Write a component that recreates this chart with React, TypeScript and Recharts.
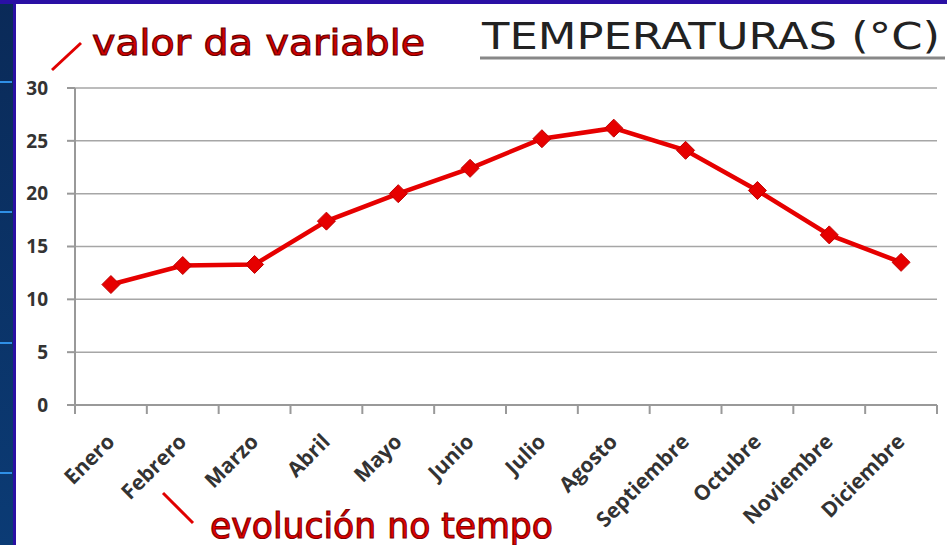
import { LineChart, Line, XAxis, YAxis, CartesianGrid } from 'recharts'

const months = ['Enero', 'Febrero', 'Marzo', 'Abril', 'Mayo', 'Junio', 'Julio', 'Agosto', 'Septiembre', 'Octubre', 'Noviembre', 'Diciembre']
const temps = [11.4, 13.2, 13.3, 17.4, 20.0, 22.4, 25.2, 26.2, 24.1, 20.3, 16.1, 13.5]
const yTicks = [0, 5, 10, 15, 20, 25, 30]

const data = months.map((m, i) => ({ month: m, temp: temps[i] }))

const tickFont = { fontFamily: 'Open Sans', fontWeight: 700, fontSize: 19, fill: '#333' }

function MonthTick(props: any) {
  const { x, y, payload, index } = props
  const off = payload.offset ?? 36
  return (
    <g>
      <line x1={x - off} y1={y} x2={x - off} y2={y + 9} stroke="#999" strokeWidth={2} />
      {index === months.length - 1 && (
        <line x1={x + off} y1={y} x2={x + off} y2={y + 9} stroke="#999" strokeWidth={2} />
      )}
      <text
        x={x + 5}
        y={y + 38}
        textAnchor="end"
        transform={`rotate(-45, ${x + 5}, ${y + 38})`}
        {...tickFont}
        fontSize={21}
      >
        {payload.value}
      </text>
    </g>
  )
}

function Diamond(props: any) {
  const { cx, cy, index } = props
  const r = 9
  return (
    <polygon
      key={`dot-${index}`}
      points={`${cx},${cy - r} ${cx + r},${cy} ${cx},${cy + r} ${cx - r},${cy}`}
      fill="#e60000"
      stroke="#c00000"
      strokeWidth={1}
    />
  )
}

export default function App() {
  return (
    <div style={{ position: 'absolute', left: 0, top: 0, width: 947, height: 545, background: '#fff', overflow: 'hidden' }}>
      <LineChart width={947} height={545} data={data} margin={{ top: 88, right: 10, bottom: 40, left: 15 }}>
        <CartesianGrid vertical={false} stroke="#a6a6a6" strokeWidth={1.5} />
        <XAxis
          dataKey="month"
          scale="band"
          interval={0}
          height={100}
          tickLine={false}
          tickSize={0}
          tickMargin={0}
          axisLine={{ stroke: '#999', strokeWidth: 2 }}
          tick={<MonthTick />}
        />
        <YAxis
          width={60}
          domain={[0, 30]}
          ticks={yTicks}
          tickSize={8}
          tickMargin={19}
          axisLine={{ stroke: '#999', strokeWidth: 2 }}
          tickLine={{ stroke: '#999', strokeWidth: 2 }}
          tick={tickFont}
        />
        <Line
          dataKey="temp"
          stroke="#e60000"
          strokeWidth={4.5}
          dot={Diamond}
          activeDot={false}
          isAnimationActive={false}
        />
      </LineChart>

      {/* slide frame on the left and top */}
      <div style={{ position: 'absolute', left: 0, top: 0, width: 13, height: 545, background: 'linear-gradient(#0a2a58, #0b3b75)' }} />
      <div style={{ position: 'absolute', left: 13, top: 0, width: 3, height: 545, background: '#2a10a4' }} />
      <div style={{ position: 'absolute', left: 0, top: 0, width: 947, height: 4, background: '#2a10a4' }} />
      {[81, 211, 342, 472].map((t) => (
        <div key={t} style={{ position: 'absolute', left: 0, top: t, width: 12, height: 2, background: '#2f8fe6' }} />
      ))}

      {/* annotations */}
      <svg width={947} height={545} style={{ position: 'absolute', left: 0, top: 0 }}>
        <text x={482} y={49} fontFamily="DejaVu Sans" fontSize={37} fill="#222" textLength={458} lengthAdjust="spacingAndGlyphs">
          TEMPERATURAS (°C)
        </text>
        <line x1={480} y1={58} x2={945} y2={58} stroke="#888" strokeWidth={3} />

        <line x1={52} y1={70} x2={81} y2={43} stroke="#e00000" strokeWidth={3} />
        <text x={92} y={55} fontFamily="DejaVu Sans" fontSize={36} fill="#d00000" stroke="#6a0000" strokeWidth={1.1} textLength={333} lengthAdjust="spacingAndGlyphs">
          valor da variable
        </text>

        <line x1={163} y1={493} x2={193} y2={523} stroke="#e00000" strokeWidth={3} />
        <text x={210} y={538} fontFamily="DejaVu Sans" fontSize={35} fill="#e00000" stroke="#800000" strokeWidth={1.1} textLength={343} lengthAdjust="spacingAndGlyphs">
          evolución no tempo
        </text>
      </svg>
    </div>
  )
}
